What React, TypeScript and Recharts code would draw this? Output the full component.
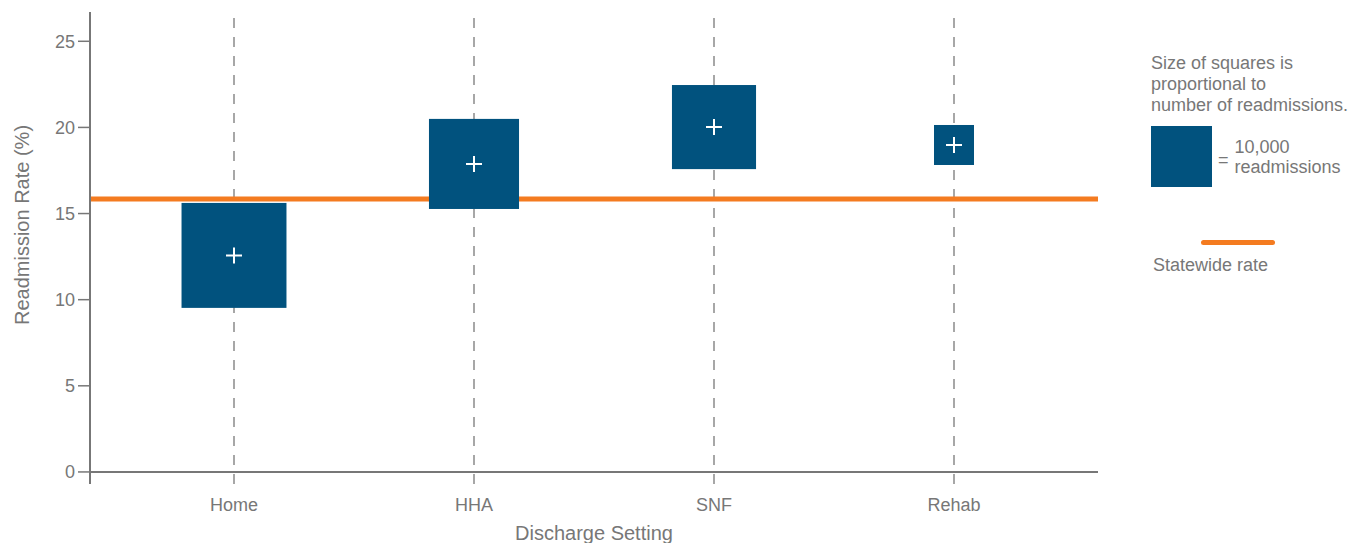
import React from "react";
import {
  ComposedChart,
  Scatter,
  XAxis,
  YAxis,
  ReferenceLine,
  Label,
} from "recharts";

// discharge settings, placed at 1..4 on a numeric x axis
const settings = ["Home", "HHA", "SNF", "Rehab"];
const positions = [1, 2, 3, 4];
const rates = [12.57, 17.88, 20.02, 18.98];
const readmissions = [29600, 21800, 19000, 4300];
const statewideRate = 15.85;
const yTicks = [0, 5, 10, 15, 20, 25];
const legendCount = 10000;

const BLUE = "#01527e";
const ORANGE = "#f47b20";
const GRAY = "#777777";
const FONT = "'Liberation Sans', Arial, sans-serif";

// square area is proportional to readmissions: 61px side = 10,000
const PX_PER_ROOT = 61 / Math.sqrt(10000);
const squareSide = (n: number) => PX_PER_ROOT * Math.sqrt(n);

const data = settings.map((name, i) => ({
  name,
  x: positions[i],
  rate: rates[i],
  count: readmissions[i],
}));

function Square(props: any) {
  const { cx, cy, payload } = props;
  const s = squareSide(payload.count);
  return (
    <g>
      <rect x={cx - s / 2} y={cy - s / 2} width={s} height={s} fill={BLUE} />
      <path
        d={`M${cx - 8},${cy}H${cx + 8}M${cx},${cy - 8}V${cy + 8}`}
        stroke="#fff"
        strokeWidth={2}
      />
    </g>
  );
}

function SideLegend() {
  const s = squareSide(legendCount);
  const text = { fontFamily: FONT, fontSize: 18, color: GRAY, lineHeight: "21px" };
  return (
    <div style={{ position: "absolute", left: 1151, top: 53, width: 206 }}>
      <div style={text}>
        Size of squares is
        <br />
        proportional to
        <br />
        number of readmissions.
      </div>
      <div style={{ display: "flex", alignItems: "center", marginTop: 10 }}>
        <div style={{ width: s, height: s, background: BLUE }} />
        <div style={{ ...text, marginLeft: 6, marginTop: 8 }}>=</div>
        <div style={{ ...text, marginLeft: 6, lineHeight: "20px" }}>
          {legendCount.toLocaleString("en-US")}
          <br />
          readmissions
        </div>
      </div>
      <div
        style={{
          marginTop: 53,
          marginLeft: 50,
          width: 74,
          height: 5,
          borderRadius: 3,
          background: ORANGE,
        }}
      />
      <div style={{ ...text, marginTop: 10, marginLeft: 2 }}>Statewide rate</div>
    </div>
  );
}

export default function App() {
  return (
    <div
      style={{
        position: "absolute",
        left: 0,
        top: 0,
        width: 1357,
        height: 543,
        background: "#fff",
        overflow: "hidden",
      }}
    >
      <ComposedChart
        width={1120}
        height={543}
        data={data}
        margin={{ top: 12, right: 22, bottom: 19, left: 30 }}
      >
        <XAxis
          dataKey="x"
          type="number"
          domain={[0.4, 4.6]}
          ticks={positions}
          tickFormatter={(v: number) => settings[positions.indexOf(v)] ?? ""}
          axisLine={false}
          tickLine={false}
          tickMargin={8}
          height={40}
          tick={{ fill: GRAY, fontSize: 18, fontFamily: FONT }}
        >
          <Label
            value="Discharge Setting"
            position="bottom"
            offset={2}
            style={{ fill: GRAY, fontSize: 20, fontFamily: FONT }}
          />
        </XAxis>
        <YAxis
          dataKey="rate"
          type="number"
          domain={[-0.7, 26.7]}
          ticks={yTicks}
          width={60}
          axisLine={{ stroke: GRAY, strokeWidth: 2 }}
          tickLine={{ stroke: GRAY, strokeWidth: 1.5 }}
          tickSize={12}
          tickMargin={3}
          tick={{ fill: GRAY, fontSize: 18, fontFamily: FONT }}
        >
          <Label
            content={() => (
              <text
                transform="translate(22,225) rotate(-90)"
                textAnchor="middle"
                dominantBaseline="central"
                fill={GRAY}
                fontSize={20}
                fontFamily={FONT}
              >
                Readmission Rate (%)
              </text>
            )}
          />
        </YAxis>
        {positions.map((p) => (
          <ReferenceLine
            key={p}
            x={p}
            stroke="#8a8a8a"
            strokeWidth={1.5}
            strokeDasharray="10 9"
          />
        ))}
        <ReferenceLine y={0} stroke={GRAY} strokeWidth={2} />
        <ReferenceLine y={statewideRate} stroke={ORANGE} strokeWidth={5} />
        <Scatter dataKey="rate" shape={Square} isAnimationActive={false} />
      </ComposedChart>
      <SideLegend />
    </div>
  );
}
